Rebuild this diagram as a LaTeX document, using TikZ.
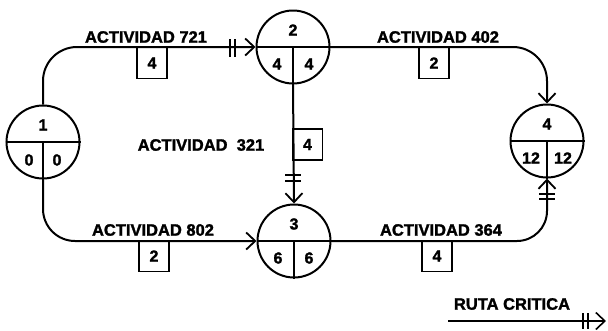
\documentclass[tikz,border=0pt]{standalone}
\usepackage{fontspec}
\setmainfont{Liberation Sans}[BoldFeatures={FakeBold=1.6}]
\usetikzlibrary{arrows.meta}
\tikzset{
  evt/.style={circle, draw, line width=2pt, minimum size=73pt, inner sep=0pt},
  link/.style={line width=2pt},
  barb/.style={-{Straight Barb[length=9pt,width=17pt,line width=1.8pt]}},
  crit/.style={link, barb},
  tick/.style={line width=1.8pt},
  durbox/.style={draw, line width=1.5pt, minimum width=30pt, minimum height=31pt, inner sep=0pt, font=\fontsize{16}{16}\selectfont\bfseries},
  actlabel/.style={font=\fontsize{16.5}{16.5}\selectfont\bfseries, inner sep=0pt},
  num/.style={font=\fontsize{16}{16}\selectfont\bfseries, inner sep=0pt}
}
\begin{document}
\begin{tikzpicture}[x=1pt, y=-1pt]
\useasboundingbox (0,0) rectangle (608,330);

% events
\node[evt] (n1) at (43,142) {};
\node[evt] (n2) at (293,47) {};
\node[evt] (n3) at (294,241) {};
\node[evt] (n4) at (547,141) {};

% dividers inside each event circle
\foreach \n in {n1,n2,n3,n4}{
  \draw[link] (\n.west) -- (\n.east);
  \draw[link] (\n.center) -- (\n.south);
}

% event numbers and times
\node[num] at (43,125) {1};
\node[num] at (29,160) {0};
\node[num] at (57,160) {0};
\node[num] at (293,30) {2};
\node[num] at (277,64) {4};
\node[num] at (309,64) {4};
\node[num] at (294,224) {3};
\node[num] at (278,258) {6};
\node[num] at (309,258) {6};
\node[num] at (547,124) {4};
\node[num] at (531,158) {12};
\node[num] at (563,158) {12};

% activities
\draw[crit, rounded corners=34pt] (n1.north) |- (n2.west);
\draw[link, barb, rounded corners=32pt] (n1.south) |- (n3.west);
\draw[link, barb, rounded corners=34pt] (n2.east) -| (n4.north);
\draw[crit, rounded corners=30pt] (n3.east) -| (n4.south);
\draw[crit] (n2.south) -- (n3.north);

% critical path ticks
\draw[tick] (230,39) -- (230,57) (235,39) -- (235,57);
\draw[tick] (285,175) -- (301,175) (285,181) -- (301,181);
\draw[tick] (539,194) -- (555,194) (539,199) -- (555,199);

% activity labels
\node[actlabel] (a721) at (146,37) {ACTIVIDAD 721};
\node[actlabel] (a402) at (438,37) {ACTIVIDAD 402};
\node[actlabel] (a802) at (153,230) {ACTIVIDAD 802};
\node[actlabel] (a364) at (441,230) {ACTIVIDAD 364};
\node[actlabel] (a321) at (201,145) {ACTIVIDAD\ \ 321};

% durations
\node[durbox] (d721) at (152,63) {4};
\node[durbox] (d402) at (434,63) {2};
\node[durbox] (d802) at (154,256) {2};
\node[durbox] (d364) at (437,256) {4};
\node[durbox] (d321) at (307.5,144.5) {4};

% legend
\node[actlabel] (leg) at (512,304) {RUTA CRITICA};
\coordinate (l0) at (448,321);
\coordinate (l1) at (606,321);
\draw[line width=1.6pt, -{Straight Barb[length=9pt,width=17pt,line width=1.6pt]}] (l0) -- (l1);
\draw[tick] (583,313) -- (583,329) (588,313) -- (588,329);
\end{tikzpicture}
\end{document}
